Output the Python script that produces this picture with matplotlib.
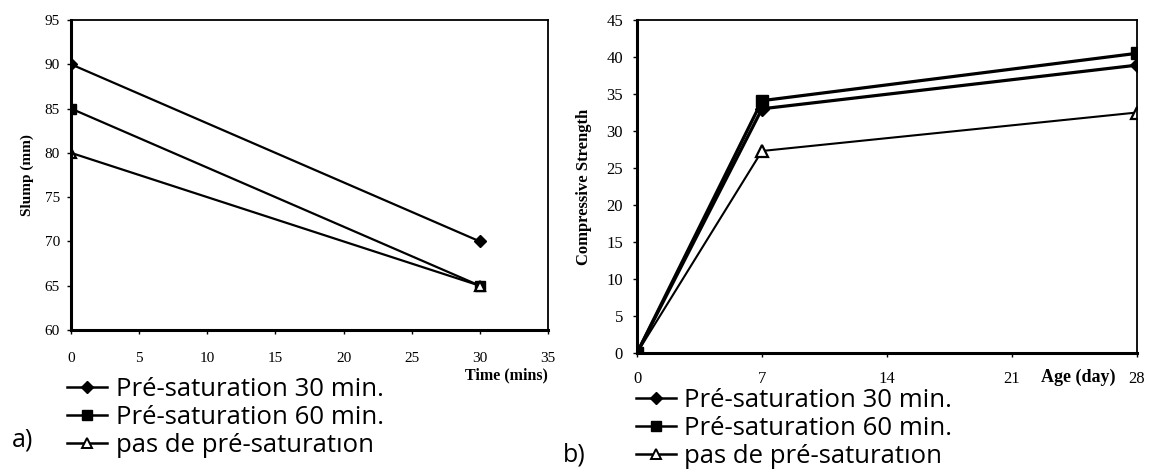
import numpy as np
import matplotlib.pyplot as plt
from matplotlib.lines import Line2D

plt.rc('font', family='Liberation Serif')

# slump vs time
time_mins = [0, 30]
slump_30 = [90, 70]
slump_60 = [85, 65]
slump_none = [80, 65]

# compressive strength vs age
age_days = [0, 7, 28]
strength_30 = [0, 33.0, 38.9]
strength_60 = [0, 34.1, 40.5]
strength_none = [0, 27.3, 32.5]

labels = ['Pré-saturation 30 min.', 'Pré-saturation 60 min.', 'pas de pré-saturatıon']

fig = plt.figure(figsize=(11.53, 4.70), dpi=100)
W, H = 1153, 470


def box(x0, y0, x1, y1):
    return [x0 / W, 1 - y1 / H, (x1 - x0) / W, (y1 - y0) / H]


def style_axes(ax, xpad, ypad, size):
    for s in ax.spines.values():
        s.set_linewidth(1.3)
    ax.spines['left'].set_linewidth(2.2)
    ax.spines['bottom'].set_linewidth(2.2)
    ax.tick_params(direction='out', length=3, width=1, labelsize=size)
    ax.tick_params(axis='x', pad=xpad)
    ax.tick_params(axis='y', pad=ypad)


# ---- a) slump
ax1 = fig.add_axes(box(71, 20, 548, 330))
ax1.plot(time_mins, slump_30, 'k-', lw=1.6, marker='D', ms=6.5, mfc='k', mec='k')
ax1.plot(time_mins, slump_60, 'k-', lw=1.6, marker='s', ms=7, mfc='k', mec='k')
ax1.plot(time_mins, slump_none, 'k-', lw=1.6, marker='^', ms=7.5, mfc='white', mec='k', mew=1.6)
ax1.set_xlim(0, 35)
ax1.set_ylim(60, 95)
ax1.set_xticks(np.arange(0, 36, 5))
ax1.set_yticks(np.arange(60, 96, 5))
style_axes(ax1, 13, 5, 11)
ax1.set_ylabel('Slump (mm)', fontsize=11, fontweight='bold', labelpad=8)
ax1.text(548 / W, 1 - 375 / H, 'Time (mins)', transform=fig.transFigure,
         ha='right', va='center', fontsize=11.5, fontweight='bold')

# ---- b) strength
ax2 = fig.add_axes(box(637, 20, 1137, 353))
ax2.plot(age_days, strength_30, 'k-', lw=2.3, marker='D', ms=7, mfc='k', mec='k')
ax2.plot(age_days, strength_60, 'k-', lw=2.3, marker='s', ms=8, mfc='k', mec='k')
ax2.plot(age_days, strength_none, 'k-', lw=1.5, marker='^', ms=8, mfc='white', mec='k', mew=1.6)
ax2.set_xlim(0, 28)
ax2.set_ylim(0, 45)
ax2.set_xticks([0, 7, 14, 21, 28])
ax2.set_yticks(np.arange(0, 46, 5))
style_axes(ax2, 10, 7, 12)
ax2.set_ylabel('Compressive Strength', fontsize=12, fontweight='bold', labelpad=10)
ax2.text(1078 / W, 1 - 377 / H, 'Age (day)', transform=fig.transFigure,
         ha='center', va='center', fontsize=13, fontweight='bold')

# legends below each panel
handles = [
    Line2D([], [], color='k', lw=1.8, marker='D', ms=6, mfc='k', mec='k'),
    Line2D([], [], color='k', lw=1.8, marker='s', ms=7, mfc='k', mec='k'),
    Line2D([], [], color='k', lw=1.8, marker='^', ms=7, mfc='white', mec='k', mew=1.4),
]
leg_font = {'family': 'Open Sans', 'size': 18.5}
fig.legend(handles, labels, loc='upper left', bbox_to_anchor=(67 / W, 1 - 377 / H),
           frameon=False, prop=leg_font, handlelength=1.55, handletextpad=0.35,
           labelspacing=0.12, borderpad=0, borderaxespad=0)
fig.legend(handles, labels, loc='upper left', bbox_to_anchor=(636 / W, 1 - 388 / H),
           frameon=False, prop=leg_font, handlelength=1.55, handletextpad=0.3,
           labelspacing=0.12, borderpad=0, borderaxespad=0)

fig.text(12 / W, 1 - 440 / H, 'a)', fontsize=18, family='Open Sans', va='center')
fig.text(563 / W, 1 - 455 / H, 'b)', fontsize=18, family='Open Sans', va='center')

fig.savefig('out.png', dpi=100)
